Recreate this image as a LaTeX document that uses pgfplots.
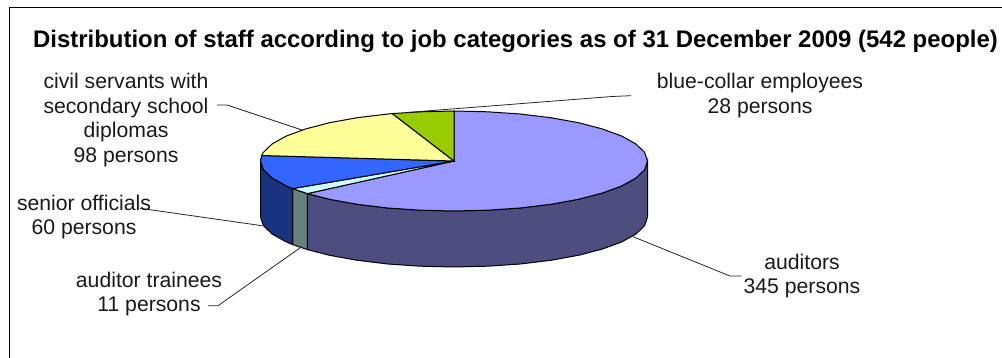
\documentclass[border=0pt]{standalone}
\usepackage{pgfplots}
\pgfplotsset{compat=1.18}
\usepackage{fontspec}
\setmainfont{Liberation Sans}
\definecolor{audTop}{HTML}{9999FF}
\definecolor{audSide}{HTML}{4D4D80}
\definecolor{traTop}{HTML}{CCFFFF}
\definecolor{traSide}{HTML}{668080}
\definecolor{senTop}{HTML}{3366FF}
\definecolor{senSide}{HTML}{1A3380}
\definecolor{civTop}{HTML}{FFFF99}
\definecolor{bluTop}{HTML}{99CC00}
\begin{document}
\begin{tikzpicture}[
  lbl/.style={align=center,text=black!90,inner sep=0pt,font=\fontsize{21.2}{24.6}\selectfont},
  leader/.style={draw=black!85,line width=0.8pt}]
\path[use as bounding box] (0,0) rectangle (1002pt,358pt);
\begin{axis}[
  at={(0,0)},anchor=south west,
  width=1002pt,height=358pt,scale only axis,
  xmin=0,xmax=1002,ymin=0,ymax=358,y dir=reverse,
  hide axis,clip=true]

% Chart frame: left and top edges
\addplot[black,line width=1pt] coordinates {(9.5,358) (9.5,7.5) (1002,7.5)};

% Pie walls. Slice angles are persons/542*360, running clockwise from 90 degrees;
% the top ellipse is centred at (454,161) with radii 193.5 and 50, the wall is 56 deep.
\addplot[fill=audSide,draw=black,line width=1pt] coordinates {
  (647.5,161) (644.6,169.7) (635.8,178.1) (621.6,186.0) (602.2,193.1) (578.4,199.3)
  (550.8,204.3) (520.2,208.0) (487.6,210.2) (454.0,211.0) (420.4,210.2) (387.8,208.0)
  (357.2,204.3) (329.6,199.3) (307.4,193.6)
  (307.4,249.6) (329.6,255.3) (357.2,260.3) (387.8,264.0) (420.4,266.2) (454.0,267.0)
  (487.6,266.2) (520.2,264.0) (550.8,260.3) (578.4,255.3) (602.2,249.1) (621.6,242.0)
  (635.8,234.1) (644.6,225.7) (647.5,217)} --cycle;
\addplot[fill=traSide,draw=black,line width=1pt] coordinates {
  (307.4,193.6) (292.7,188.6) (292.7,244.6) (307.4,249.6)} --cycle;
\addplot[fill=senSide,draw=black,line width=1pt] coordinates {
  (292.7,188.6) (286.4,186.0) (272.2,178.1) (263.4,169.7) (260.5,161.0)
  (260.5,217.0) (263.4,225.7) (272.2,234.1) (286.4,242.0) (292.7,244.6)} --cycle;

% Pie top: auditors 345
\addplot[fill=audTop,draw=black,line width=1pt] coordinates {
  (454,161) (454.0,111.0) (487.6,111.8) (520.2,114.0) (550.8,117.7) (578.4,122.7)
  (602.2,128.9) (621.6,136.0) (635.8,143.9) (644.6,152.3) (647.5,161.0) (644.6,169.7)
  (635.8,178.1) (621.6,186.0) (602.2,193.1) (578.4,199.3) (550.8,204.3) (520.2,208.0)
  (487.6,210.2) (454.0,211.0) (420.4,210.2) (387.8,208.0) (357.2,204.3) (329.6,199.3)
  (307.4,193.6)} --cycle;
% auditor trainees 11
\addplot[fill=traTop,draw=black,line width=1pt] coordinates {
  (454,161) (307.4,193.6) (292.7,188.6)} --cycle;
% senior officials 60
\addplot[fill=senTop,draw=black,line width=1pt] coordinates {
  (454,161) (292.7,188.6) (286.4,186.0) (272.2,178.1) (263.4,169.7) (260.5,161.0)
  (261.7,155.5)} --cycle;
% civil servants 98
\addplot[fill=civTop,draw=black,line width=1pt] coordinates {
  (454,161) (261.7,155.5) (263.4,152.3) (272.2,143.9) (286.4,136.0) (305.8,128.9)
  (329.6,122.7) (357.2,117.7) (387.8,114.0) (392.3,113.6)} --cycle;
% blue-collar employees 28
\addplot[fill=bluTop,draw=black,line width=1pt] coordinates {
  (454,161) (392.3,113.6) (420.4,111.8) (454.0,111.0)} --cycle;

% Leader lines
\addplot[leader] coordinates {(217,105) (227,105) (302,130)};
\addplot[leader] coordinates {(407,112.5) (612,96.5) (631,95.7)};
\addplot[leader] coordinates {(140,208.3) (262,225.7)};
\addplot[leader] coordinates {(208,305.7) (218,305.7) (301.7,246.7)};
\addplot[leader] coordinates {(633,236.7) (730,276) (741.7,276)};

% Title and slice labels
\node[inner sep=0pt,font=\fontsize{23.95}{27}\selectfont\bfseries,text=black] at (axis cs:515.5,41)
  {Distribution of staff according to job categories as of 31 December 2009 (542 people)};
\node[lbl] at (axis cs:126,120) {civil servants with\\secondary school\\diplomas\\98 persons};
\node[lbl] at (axis cs:84,217) {senior officials\\60 persons};
\node[lbl] at (axis cs:149,294) {auditor trainees\\11 persons};
\node[lbl] at (axis cs:760,95.5) {blue-collar employees\\28 persons};
\node[lbl] at (axis cs:802,276) {auditors\\345 persons};
\end{axis}
\end{tikzpicture}
\end{document}
